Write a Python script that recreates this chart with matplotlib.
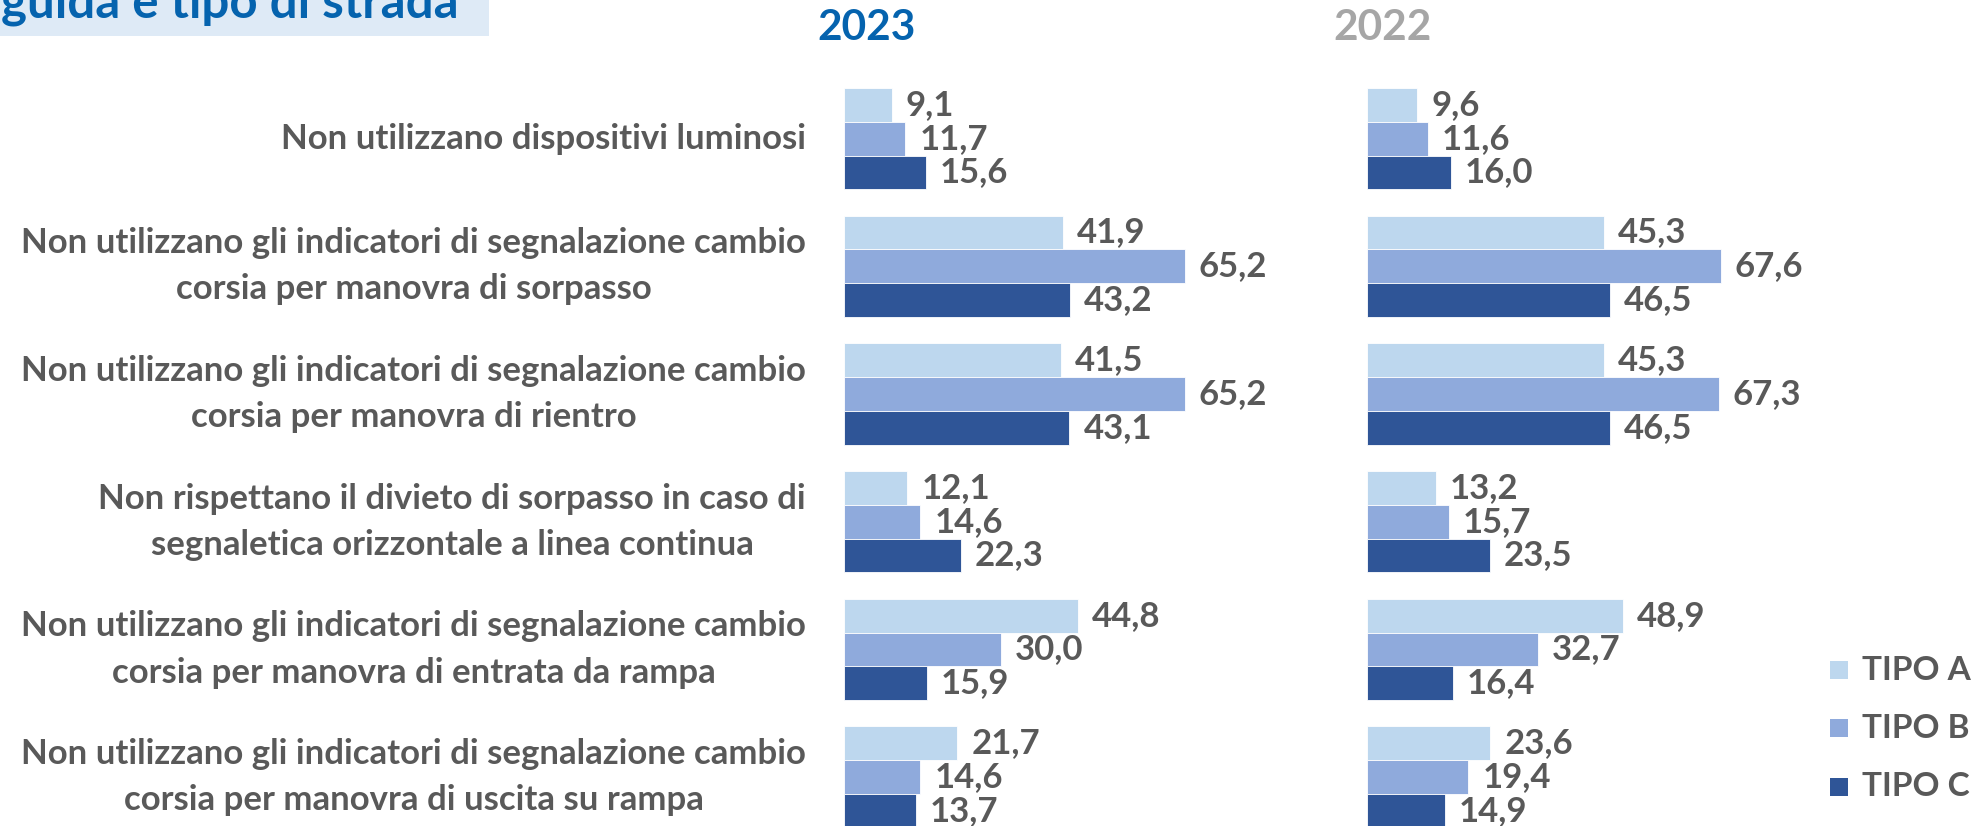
import matplotlib
matplotlib.use("Agg")
import matplotlib.pyplot as plt
from matplotlib.patches import Rectangle
import numpy as np

plt.rcParams['font.family'] = ['Lato', 'DejaVu Sans']
plt.rcParams['font.weight'] = 'bold'

categories = [
    "Non utilizzano dispositivi luminosi",
    "Non utilizzano gli indicatori di segnalazione cambio\ncorsia per manovra di sorpasso",
    "Non utilizzano gli indicatori di segnalazione cambio\ncorsia per manovra di rientro",
    "Non rispettano il divieto di sorpasso in caso di\nsegnaletica orizzontale a linea continua",
    "Non utilizzano gli indicatori di segnalazione cambio\ncorsia per manovra di entrata da rampa",
    "Non utilizzano gli indicatori di segnalazione cambio\ncorsia per manovra di uscita su rampa",
]
series_names = ["TIPO A", "TIPO B", "TIPO C"]
y2023_A = [9.1, 41.9, 41.5, 12.1, 44.8, 21.7]
y2023_B = [11.7, 65.2, 65.2, 14.6, 30.0, 14.6]
y2023_C = [15.6, 43.2, 43.1, 22.3, 15.9, 13.7]
y2022_A = [9.6, 45.3, 45.3, 13.2, 48.9, 23.6]
y2022_B = [11.6, 67.6, 67.3, 15.7, 32.7, 19.4]
y2022_C = [16.0, 46.5, 46.5, 23.5, 16.4, 14.9]
years = ["2023", "2022"]
header = "guida e tipo di strada"

colors = ["#BDD7EE", "#8FAADC", "#2F5597"]
txt_gray = "#595959"

W, H = 1975, 826
fig = plt.figure(figsize=(W / 100, H / 100), dpi=100)

# header box
fig.patches.append(Rectangle((0, 1 - 36 / H), 489 / W, 36 / H, transform=fig.transFigure,
                             facecolor="#DEEAF6", edgecolor="none", zorder=0))
fig.text(1 / W, 1 - 17 / H, header, ha="left", va="baseline", fontsize=35.5,
         color="#0563AE", fontweight="bold")

# axes geometry
px_per_unit = 5.23
xmax = 80
ax_w = xmax * px_per_unit
pitch = 127.7
c0 = 138.6
ytop = -c0 / pitch
ybot = (H - c0) / pitch
bh = 33.8 / pitch

lefts = [844, 1367]
data = [[y2023_A, y2023_B, y2023_C], [y2022_A, y2022_B, y2022_C]]
y = np.arange(len(categories))
axes = []
for k, left in enumerate(lefts):
    ax = fig.add_axes([left / W, 0, ax_w / W, 1])
    for j, vals in enumerate(data[k]):
        pos = y + (j - 1) * bh
        ax.barh(pos, vals, height=bh, color=colors[j], edgecolor="white",
                linewidth=0.6, label=series_names[j])
        for p, v in zip(pos, vals):
            ax.annotate(f"{v:.1f}".replace(".", ","), xy=(v, p), xytext=(14, 0),
                        textcoords="offset pixels", ha="left", va="center",
                        fontsize=25, color=txt_gray, fontweight="bold")
    ax.set_xlim(0, xmax)
    ax.set_ylim(ybot, ytop)
    ax.axis("off")
    axes.append(ax)

# category labels
for i, lab in enumerate(categories):
    axes[0].annotate(lab, xy=(0, i), xycoords="data", xytext=(-38, 0),
                     textcoords="offset pixels", ha="right", va="center",
                     multialignment="center", fontsize=25, color=txt_gray,
                     fontweight="bold", linespacing=1.55)

# year titles
fig.text(867 / W, 1 - 28 / H, years[0], ha="center", va="center", fontsize=30.5,
         color="#0563AE", fontweight="bold")
fig.text(1383 / W, 1 - 28 / H, years[1], ha="center", va="center", fontsize=30.5,
         color="#A6A6A6", fontweight="bold")

# legend
leg_y = [670, 728, 787]
for j, name in enumerate(series_names):
    yy = 1 - leg_y[j] / H
    fig.patches.append(Rectangle((1830 / W, yy - 9 / H), 18 / W, 18 / H,
                                 transform=fig.transFigure, facecolor=colors[j],
                                 edgecolor="none"))
    fig.text(1862 / W, yy, name, ha="left", va="center", fontsize=24,
             color=txt_gray, fontweight="bold")

fig.savefig("out.png", dpi=100)
